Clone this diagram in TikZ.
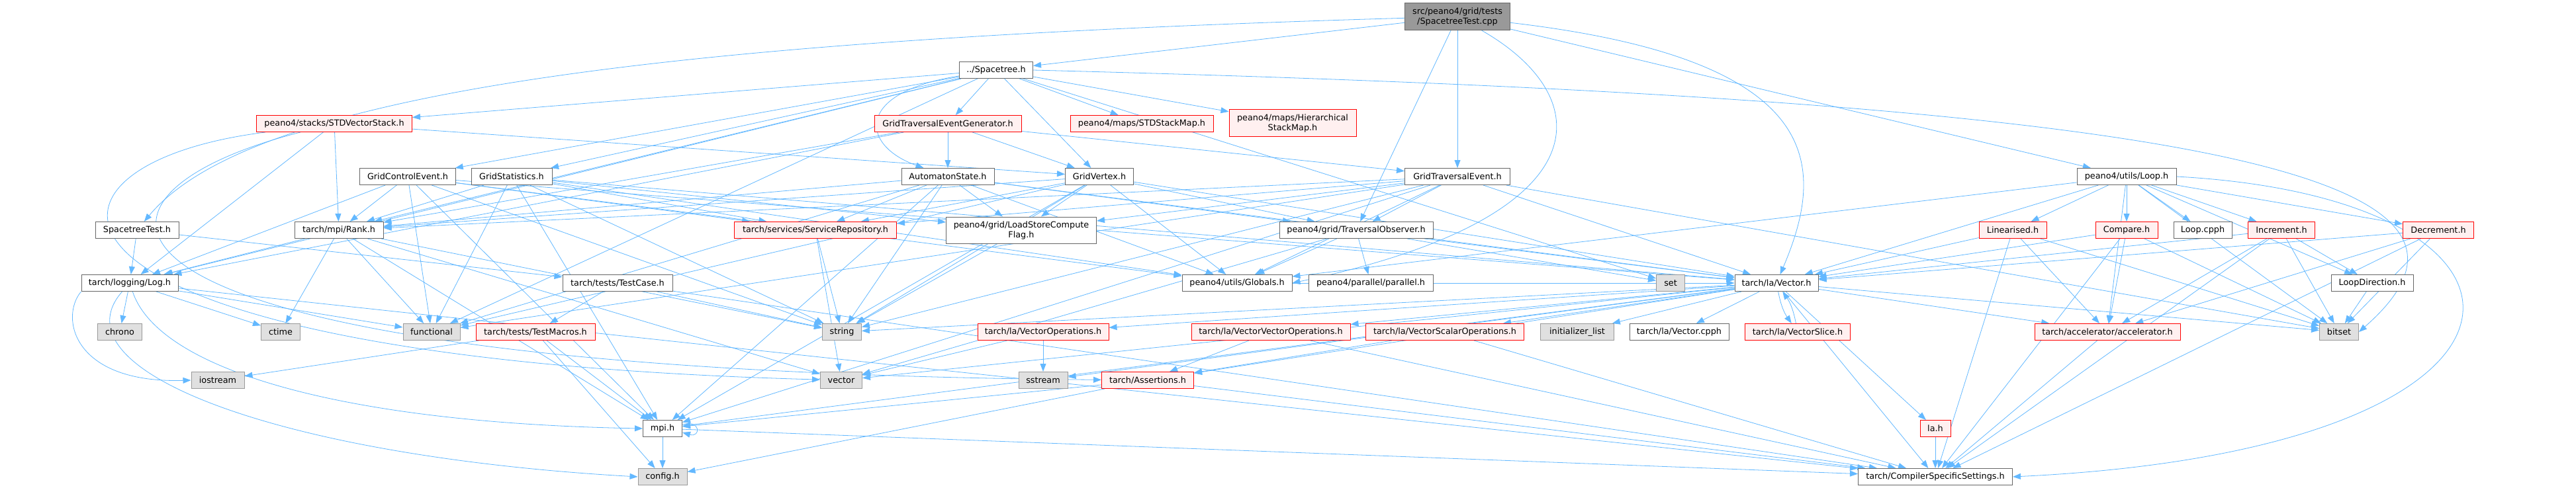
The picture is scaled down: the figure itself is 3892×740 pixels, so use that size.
\documentclass[tikz,border=0pt]{standalone}
\usepackage{fontspec}
\setmainfont{DejaVu Sans}
\usetikzlibrary{arrows.meta,backgrounds}
\definecolor{edgec}{HTML}{63B8FF}
\definecolor{redfill}{HTML}{FFF0F0}
\definecolor{sysfill}{HTML}{E0E0E0}
\definecolor{sysdraw}{HTML}{999999}
\definecolor{nrmdraw}{HTML}{666666}
\definecolor{topfill}{HTML}{999999}
\begin{document}
\begin{tikzpicture}[x=1pt,y=-1pt,
 nb/.style={draw=nrmdraw, fill=white, line width=1pt, minimum height=25pt, inner xsep=3pt, inner ysep=0pt, font=\fontsize{12.8}{15}\selectfont, align=center},
 rb/.style={nb, draw=red, fill=redfill},
 sb/.style={nb, draw=sysdraw, fill=sysfill},
 tb/.style={nb, draw=nrmdraw, fill=topfill},
 edge/.style={draw=edgec, line width=0.8pt, -{Triangle[length=12pt,width=9pt]}}]
\useasboundingbox (0,0) rectangle (3892,740);
% row 1-2
\node[tb, minimum width=159, minimum height=41] (top) at (2202,25) {src/peano4/grid/tests\\/SpacetreeTest.cpp};
\node[nb, minimum width=111] (sp) at (1505,106) {../Spacetree.h};
% row 3
\node[rb, minimum width=235] (svs) at (505,187) {peano4/stacks/STDVectorStack.h};
\node[rb, minimum width=222] (gteg) at (1432,187) {GridTraversalEventGenerator.h};
\node[rb, minimum width=216] (ssm) at (1725,187) {peano4/maps/STDStackMap.h};
\node[rb, minimum width=192, minimum height=41] (hsm) at (1953,186) {peano4/maps/Hierarchical\\StackMap.h};
% row 4
\node[nb, minimum width=145] (gce) at (616,267) {GridControlEvent.h};
\node[nb, minimum width=122] (gs) at (773,267) {GridStatistics.h};
\node[nb, minimum width=140] (ast) at (1432,267) {AutomatonState.h};
\node[nb, minimum width=103] (gv) at (1661,267) {GridVertex.h};
\node[nb, minimum width=159] (gte) at (2202,267) {GridTraversalEvent.h};
\node[nb, minimum width=150] (loop) at (3213,267) {peano4/utils/Loop.h};
% row 5
\node[nb, minimum width=126] (sth) at (207,348) {SpacetreeTest.h};
\node[nb, minimum width=134] (rank) at (512,348) {tarch/mpi/Rank.h};
\node[rb, minimum width=245] (srv) at (1232,348) {tarch/services/ServiceRepository.h};
\node[nb, minimum width=227, minimum height=40] (lscf) at (1543,348) {peano4/grid/LoadStoreCompute\\Flag.h};
\node[nb, minimum width=232] (tobs) at (2049,348) {peano4/grid/TraversalObserver.h};
\node[rb, minimum width=102] (lin) at (3041,348) {Linearised.h};
\node[rb, minimum width=94] (cmp) at (3213,348) {Compare.h};
\node[nb, minimum width=88] (lcpph) at (3328,348) {Loop.cpph};
\node[rb, minimum width=101] (inc) at (3447,348) {Increment.h};
\node[rb, minimum width=107] (dec) at (3684,348) {Decrement.h};
% row 6
\node[nb, minimum width=146] (log) at (196,428) {tarch/logging/Log.h};
\node[nb, minimum width=166] (tc) at (933,428) {tarch/tests/TestCase.h};
\node[nb, minimum width=166] (glob) at (1869,428) {peano4/utils/Globals.h};
\node[nb, minimum width=188] (par) at (2071,428) {peano4/parallel/parallel.h};
\node[sb, minimum width=43] (set) at (2524,428) {set};
\node[nb, minimum width=126] (vec) at (2684,428) {tarch/la/Vector.h};
\node[nb, minimum width=124] (ldir) at (3584,428) {LoopDirection.h};
% row 7
\node[sb, minimum width=67] (chrono) at (181,502) {chrono};
\node[sb, minimum width=59] (ctime) at (424,502) {ctime};
\node[sb, minimum width=86] (func) at (652,502) {functional};
\node[rb, minimum width=180] (tm) at (809,502) {tarch/tests/TestMacros.h};
\node[sb, minimum width=59] (string) at (1272,502) {string};
\node[rb, minimum width=198] (vops) at (1576,502) {tarch/la/VectorOperations.h};
\node[rb, minimum width=240] (vvops) at (1920,502) {tarch/la/VectorVectorOperations.h};
\node[rb, minimum width=239] (vsops) at (2183,502) {tarch/la/VectorScalarOperations.h};
\node[sb, minimum width=111] (il) at (2383,502) {initializer\_list};
\node[nb, minimum width=150] (vcpph) at (2537,502) {tarch/la/Vector.cpph};
\node[rb, minimum width=159] (vslice) at (2716,502) {tarch/la/VectorSlice.h};
\node[rb, minimum width=220] (acc) at (3184,502) {tarch/accelerator/accelerator.h};
\node[sb, minimum width=59] (bitset) at (3534,502) {bitset};
% row 8
\node[sb, minimum width=80] (iostream) at (329,575) {iostream};
\node[sb, minimum width=63] (vector) at (1271,575) {vector};
\node[sb, minimum width=74] (sstream) at (1576,575) {sstream};
\node[rb, minimum width=139] (assert) at (1734,575) {tarch/Assertions.h};
% rows 9-10
\node[nb, minimum width=59] (mpi) at (1001,648) {mpi.h};
\node[rb, minimum width=46] (lah) at (2924,648) {la.h};
\node[sb, minimum width=74] (config) at (1001,721) {config.h};
\node[nb, minimum width=233] (css) at (2924,721) {tarch/CompilerSpecificSettings.h};

\begin{pgfonlayer}{background}
\foreach \a/\b in {top/sp, top/gte, top/tobs, top/loop,
  sp/gteg, sp/ssm, sp/hsm, sp/gv, sp/svs, sp/gce, sp/gs, sp/log, sp/set, sp/rank, sp/func,
  svs/rank, svs/log, svs/gv,
  gteg/ast, gteg/gv, gteg/gte, gteg/log, gteg/rank,
  gce/rank, gce/srv, gce/glob, gce/vec, gce/mpi, gce/string, gce/func, gce/log,
  gs/rank, gs/srv, gs/glob, gs/vec, gs/mpi, gs/string, gs/func, gs/lscf,
  ast/rank, ast/srv, ast/glob, ast/vec, ast/mpi, ast/string, ast/func, ast/lscf, ast/tobs,
  gv/rank, gv/srv, gv/glob, gv/vec, gv/mpi, gv/string, gv/func, gv/lscf, gv/tobs,
  gte/rank, gte/srv, gte/glob, gte/vec, gte/mpi, gte/string, gte/func, gte/lscf, gte/tobs, gte/bitset,
  loop/lin, loop/cmp, loop/lcpph, loop/inc, loop/dec, loop/ldir, loop/bitset, loop/vec, loop/glob, loop/acc,
  lin/vec, lin/acc, lin/css, lin/bitset,
  cmp/vec, cmp/acc, cmp/css, cmp/bitset,
  inc/vec, inc/acc, inc/css, inc/bitset, inc/ldir,
  dec/vec, dec/acc, dec/css, dec/bitset,
  ldir/bitset,
  sth/tc, sth/log,
  tc/tm, tc/string, tc/css,
  tm/mpi, tm/config, tm/iostream,
  log/chrono, log/ctime, log/func, log/css,
  rank/log, rank/ctime, rank/func, rank/vector, rank/string, rank/mpi,
  srv/string, srv/vector, lscf/string,
  tobs/glob, tobs/par, tobs/vec, tobs/set, tobs/vector,
  glob/vec,
  vec/string, vec/vops, vec/vvops, vec/vsops, vec/il, vec/vcpph, vec/lah, vec/css, vec/acc, vec/bitset, vec/assert, vec/vector, vec/sstream, vec/mpi,
  vops/sstream, vops/vector,
  vvops/assert, vvops/css, vsops/assert, vsops/css,
  lah/css, acc/css,
  assert/mpi, assert/config, assert/css,
  mpi/config, mpi/css}
  \draw[edge] (\a) -- (\b);
\draw[edge] (vec) to[bend right=12] (vslice);
\draw[edge] (vslice) to[bend right=12] (vec);
\draw[edge] (top) .. controls (1000,60) and (380,140) .. (sth);
\draw[edge] (top) .. controls (2420,150) and (2420,330) .. (glob.east);
\draw[edge] (top) .. controls (2760,90) and (2760,250) .. (vec);
\draw[edge] (sp) .. controls (1290,140) and (1300,220) .. (ast);
\draw[edge] (sp.east) .. controls (3300,150) and (3840,260) .. (bitset.east);
\draw[edge] (loop.east) .. controls (3900,300) and (3900,680) .. (css.east);
\draw[edge] (svs) .. controls (0,250) and (0,540) .. (vector);
\draw[edge] (svs) .. controls (60,300) and (60,560) .. (assert);
\draw[edge] (log.south west) .. controls (90,480) and (110,580) .. (iostream.west);
\draw[edge] (log) .. controls (80,560) and (420,690) .. (config.west);
\draw[edge] (log) .. controls (240,560) and (520,640) .. (mpi.west);
\draw[edge] ([yshift=6pt]mpi.east) .. controls +(28pt,8pt) and +(28pt,-8pt) .. ([yshift=-6pt]mpi.east);
\end{pgfonlayer}
\end{tikzpicture}
\end{document}
